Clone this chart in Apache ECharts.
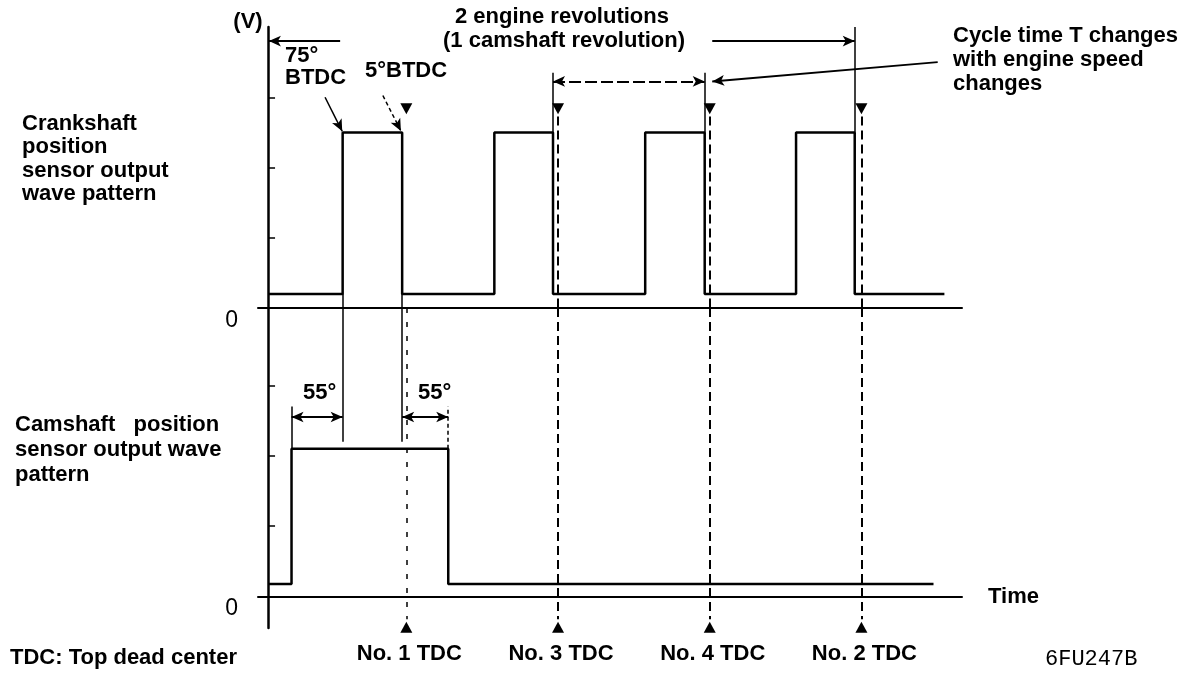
<!DOCTYPE html>
<html>
<head>
<meta charset="utf-8">
<script src="https://cdn.jsdelivr.net/npm/echarts@6/dist/echarts.min.js"></script>
<style>html,body{margin:0;padding:0;background:#fff}#main{width:1200px;height:678px}</style>
</head>
<body>
<div id="main"></div>
<script>
// x = crank angle (deg, 0 at the voltage axis), y = volts
var crankRise = [89, 270, 450, 630];   // 75° BTDC edges
var crankFall = [160, 340, 521, 700];  // 5° BTDC edges
var crankHigh = 5, crankLow = 0.4, crankEnd = 807;
var camRise = 28, camFall = 215, camHigh = 4.2, camLow = 0.35, camEnd = 794;
var tdcX = [165, 346, 527, 708];
var tdcNames = ['No. 1 TDC', 'No. 3 TDC', 'No. 4 TDC', 'No. 2 TDC'];
var voltTicks = [2, 4, 6];

var FONT = "'Liberation Sans', Arial, sans-serif";

function crankWave() {
    var pts = [[0, crankLow]];
    crankRise.forEach(function (r, i) {
        pts.push([r, crankLow], [r, crankHigh], [crankFall[i], crankHigh], [crankFall[i], crankLow]);
    });
    pts.push([crankEnd, crankLow]);
    return pts;
}
var camWave = [[0, camLow], [camRise, camLow], [camRise, camHigh], [camFall, camHigh], [camFall, camLow], [camEnd, camLow]];

var thin = {type: 'solid', width: 1.5, color: '#000'};
var solid = {type: 'solid', width: 2, color: '#000'};
var dash = {type: [9, 5], width: 2, color: '#000'};
var dot = {type: [5, 9], width: 1.5, color: '#000'};
var shortDash = {type: [4, 3], width: 1.5, color: '#000'};

// one markLine segment, s1/s2 = end symbols
function seg(x1, y1, x2, y2, style, s1, s2) {
    return [{coord: [x1, y1], symbol: s1 || 'none', lineStyle: style},
            {coord: [x2, y2], symbol: s2 || 'none', lineStyle: style}];
}

var topLines = [
    seg(86, 7.6, 1, 7.6, solid, 'none', 'arrow'),
    seg(530, 7.6, crankFall[3], 7.6, solid, 'none', 'arrow'),
    seg(crankFall[3], crankHigh, crankFall[3], 8, thin),
    seg(crankFall[1], crankHigh, crankFall[1], 6.7, thin),
    seg(crankFall[2], crankHigh, crankFall[2], 6.7, thin),
    seg(crankFall[1], 6.45, crankFall[2], 6.45, {type: [12, 4], width: 2, color: '#000'}, 'arrow', 'arrow'),
    seg(799, 7.0, 530, 6.45, solid, 'none', 'arrow'),
    seg(68, 6.0, 88.5, 5.03, thin, 'none', 'arrow'),
    seg(137, 6.05, 158.5, 5.04, shortDash, 'none', 'arrow'),
    seg(crankRise[0], crankLow, crankRise[0], 0, thin),
    seg(crankFall[0], crankLow, crankFall[0], 0, thin)
];
tdcX.slice(1).forEach(function (x) { topLines.push(seg(x, 5.45, x, 0, dash)); });

var bottomLines = [
    seg(crankRise[0], 8.2, crankRise[0], 4.4, thin),
    seg(crankFall[0], 8.2, crankFall[0], 4.4, thin),
    seg(camRise, camHigh, camRise, 5.4, thin),
    seg(camFall, camHigh, camFall, 5.4, shortDash),
    seg(camRise, 5.1, crankRise[0], 5.1, solid, 'arrow', 'arrow'),
    seg(crankFall[0], 5.1, camFall, 5.1, solid, 'arrow', 'arrow')
];
tdcX.forEach(function (x, i) { bottomLines.push(seg(x, 8.2, x, -0.65, i === 0 ? dot : dash)); });

function txt(x, y, text, size, lh, extra) {
    var st = {text: text, fill: '#000', fontSize: size, fontFamily: FONT, fontWeight: 'bold',
              lineHeight: lh || size, align: 'left', verticalAlign: 'top'};
    if (extra) for (var k in extra) st[k] = extra[k];
    return {type: 'text', x: x, y: y, silent: true, style: st};
}

var myChart = echarts.init(document.getElementById('main'));
var option = {
    animation: false,
    backgroundColor: '#fff',
    grid: [
        {left: 258, width: 704, top: 27, height: 281, outerBoundsMode: 'none'},
        {left: 258, width: 704, top: 308, height: 320, outerBoundsMode: 'none'}
    ],
    xAxis: [0, 1].map(function (i) {
        return {
            type: 'value', gridIndex: i, min: -12, max: 828,
            axisLine: {show: true, onZero: true, lineStyle: {color: '#000', width: 2}},
            axisTick: {show: false}, axisLabel: {show: false}, splitLine: {show: false}
        };
    }),
    yAxis: [
        {min: 0, max: 8},
        {min: -0.9, max: 8.2}
    ].map(function (r, i) {
        return {
            type: 'value', gridIndex: i, min: r.min, max: r.max,
            axisLine: {show: true, onZero: true, lineStyle: {color: '#000', width: 2.5}},
            axisTick: {show: true, inside: true, length: 7, customValues: voltTicks,
                       lineStyle: {color: '#000', width: 1.5}},
            axisLabel: {show: true, customValues: [0], formatter: function () { return '0'; },
                        margin: 20, color: '#000', fontSize: 23, fontFamily: FONT,
                        verticalAlign: 'top', padding: [1, 0, 0, 0]},
            splitLine: {show: false}
        };
    }),
    graphic: [
        txt(248, 11, '(V)', 22, 22, {align: 'center'}),
        txt(22, 112, 'Crankshaft\nposition\nsensor output\nwave pattern', 22, 23.5),
        txt(15, 412, 'Camshaft   position\nsensor output wave\npattern', 22, 25),
        txt(285, 45, '75°\nBTDC', 22, 22),
        txt(365, 60, '5°BTDC', 22),
        txt(455, 6, '2 engine revolutions', 22),
        txt(443, 30, '(1 camshaft revolution)', 22),
        txt(953, 24, 'Cycle time T changes\nwith engine speed\nchanges', 22, 24),
        txt(303, 382, '55°', 22),
        txt(418, 382, '55°', 22),
        txt(988, 586, 'Time', 22),
        txt(10, 647, 'TDC: Top dead center', 22),
        txt(1045, 648, '6FU247B', 22, 22, {fontFamily: "'Liberation Mono', 'DejaVu Sans Mono', monospace",
                                         fontWeight: 'normal'})
    ],
    series: [
        {
            type: 'line', xAxisIndex: 0, yAxisIndex: 0, data: crankWave(),
            symbol: 'none', clip: false, silent: true,
            lineStyle: {color: '#000', width: 2.5},
            markLine: {silent: true, symbolSize: [8, 12], label: {show: false}, data: topLines},
            markPoint: {
                silent: true,
                data: tdcX.map(function (x) {
                    return {coord: [x, 5.67], symbol: 'triangle', symbolSize: [12, 11], symbolRotate: 180,
                            itemStyle: {color: '#000'}, label: {show: false}};
                })
            }
        },
        {
            type: 'line', xAxisIndex: 1, yAxisIndex: 1, data: camWave,
            symbol: 'none', clip: false, silent: true,
            lineStyle: {color: '#000', width: 2.5},
            markLine: {silent: true, symbolSize: [8, 12], label: {show: false}, data: bottomLines},
            markPoint: {
                silent: true,
                data: tdcX.map(function (x, i) {
                    return {coord: [x, -0.88], name: tdcNames[i], symbol: 'triangle', symbolSize: [12, 11],
                            itemStyle: {color: '#000'},
                            label: {show: true, position: 'bottom', distance: 10, offset: [3, 0],
                                    formatter: '{b}', color: '#000', fontSize: 22, fontWeight: 'bold',
                                    fontFamily: FONT}};
                })
            }
        }
    ]
};

// 为echarts对象加载数据
myChart.setOption(option);
</script>
</body>
</html>
